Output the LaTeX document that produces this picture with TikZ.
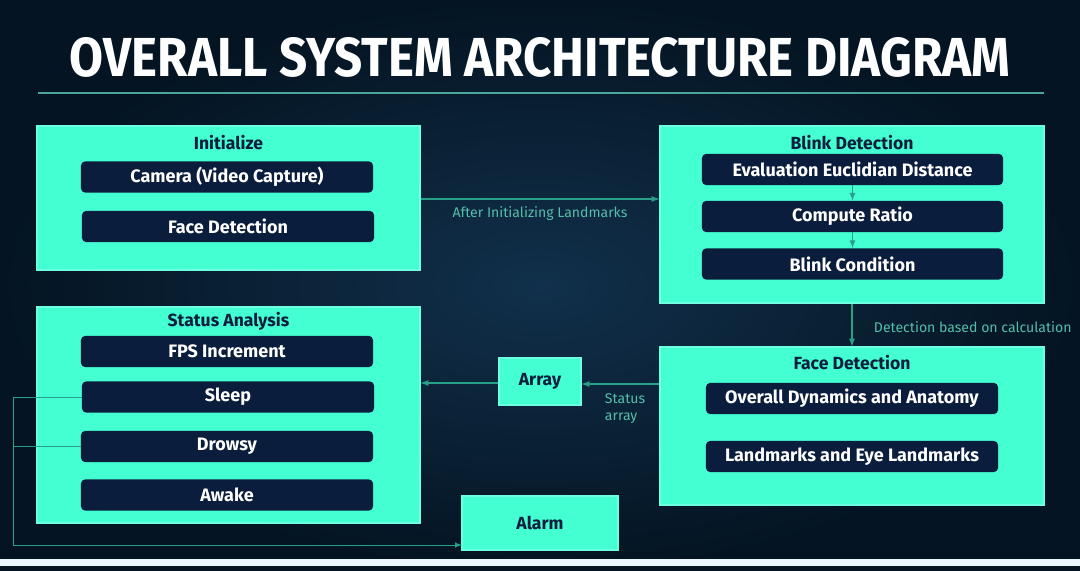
\documentclass[tikz,border=0pt]{standalone}
\usepackage{fontspec}
\setmainfont{Fira Sans}
\usepackage{graphicx}
\usepackage{tikz}
\usetikzlibrary{shapes,arrows,positioning,calc}

\definecolor{bgin}{RGB}{17,48,75}
\definecolor{bgout}{RGB}{4,20,34}
\definecolor{aqua}{RGB}{68,255,210}
\definecolor{aquaedge}{RGB}{110,255,225}
\definecolor{navy}{RGB}{11,29,60}
\definecolor{flow}{RGB}{40,160,135}
\definecolor{notec}{RGB}{85,190,170}
\definecolor{rulec}{RGB}{75,165,155}

\begin{document}
\begin{tikzpicture}[x=0.025cm, y=-0.025cm,
        panel/.style={draw=aquaedge, fill=aqua, line width=0.8pt, inner sep=0pt},
        paneltitle/.style={text=navy, font=\bfseries\fontsize{12.5}{14}\selectfont},
        item/.style={fill=navy, rounded corners=3pt, minimum width=7.3cm, minimum height=0.78cm, inner sep=0pt, text=white, font=\bfseries\fontsize{12.8}{14}\selectfont},
        flowline/.style={draw=flow, line width=0.9pt, -latex},
        railline/.style={draw=flow, line width=0.7pt},
        note/.style={text=notec, font=\fontsize{10}{12}\selectfont}]
        % Background
        \shade[inner color=bgin, outer color=bgout] (0,0) rectangle (1080,571);
        \fill[white!92!cyan] (0,559) rectangle (1080,566);
        \fill[bgout] (0,566) rectangle (1080,571);
        \useasboundingbox (0,0) rectangle (1080,571);

        % Title
        \node[text=white, inner sep=0pt] (title) at (540,57.5) {\resizebox{23.5cm}{0.975cm}{\bfseries OVERALL SYSTEM ARCHITECTURE DIAGRAM}};
        \draw[rulec, line width=1.4pt] (38,93) -- (1044,93);

        % Initialize
        \node[panel, minimum width=9.575cm, minimum height=3.6cm] (init) at (228.5,198) {};
        \node[paneltitle] (initttl) at (228.5,143) {Initialize};
        \node[item] (cam) at (227,177) {Camera (Video Capture)};
        \node[item] (fdet) at (228,226.5) {Face Detection};

        % Blink Detection
        \node[panel, minimum width=9.6cm, minimum height=4.425cm] (blink) at (852,214.5) {};
        \node[paneltitle] (blinkttl) at (852,143) {Blink Detection};
        \node[item, minimum width=7.525cm] (eed) at (852.5,169.5) {Evaluation Euclidian Distance};
        \node[item, minimum width=7.525cm] (ratio) at (852.5,216.5) {Compute Ratio};
        \node[item, minimum width=7.525cm] (cond) at (852.5,264) {Blink Condition};
        \draw[flowline] (eed) -- (ratio);
        \draw[flowline] (ratio) -- (cond);

        % Face Detection
        \node[panel, minimum width=9.6cm, minimum height=3.95cm] (face) at (852,426) {};
        \node[paneltitle] (facettl) at (852,363) {Face Detection};
        \node[item] (dyn) at (852,398.5) {Overall Dynamics and Anatomy};
        \node[item] (eyes) at (852,456.5) {Landmarks and Eye Landmarks};

        % Status Analysis
        \node[panel, minimum width=9.575cm, minimum height=5.4cm] (status) at (228.5,415) {};
        \node[paneltitle] (statusttl) at (228.5,321) {Status Analysis};
        \node[item] (fps) at (227,351.5) {FPS Increment};
        \node[item] (sleep) at (228,397) {Sleep};
        \node[item] (drowsy) at (227,446.5) {Drowsy};
        \node[item] (awake) at (227,495) {Awake};

        % Array and Alarm
        \node[panel, minimum width=2.05cm, minimum height=1.175cm, paneltitle] (array) at (540,381.5) {Array};
        \node[panel, minimum width=3.9cm, minimum height=1.35cm, paneltitle] (alarm) at (540,523) {Alarm};

        % Connectors
        \draw[flowline] (init.east |- 0,199) -- (blink.west |- 0,199);
        \node[note] (afterinit) at (540,214) {After Initializing Landmarks};
        \draw[flowline] (blink) -- (face);
        \node[note, anchor=west] (detcalc) at (869,327) {Detection based on calculation};
        \draw[flowline] (face.west |- 0,384) -- (array.east |- 0,384);
        \node[note, anchor=west, align=left] (statarr) at (600,409) {Status\\array};
        \draw[flowline] (array.west |- 0,383) -- (status.east |- 0,383);

        % Alarm rail
        \coordinate (rail) at (13,545);
        \coordinate (alarmin) at (462,545);
        \draw[railline] (sleep.west) -| (rail);
        \draw[railline] (drowsy.west) -- (drowsy.west -| rail);
        \draw[railline, -latex] (rail) -- (alarmin);
    \end{tikzpicture}
\end{document}
